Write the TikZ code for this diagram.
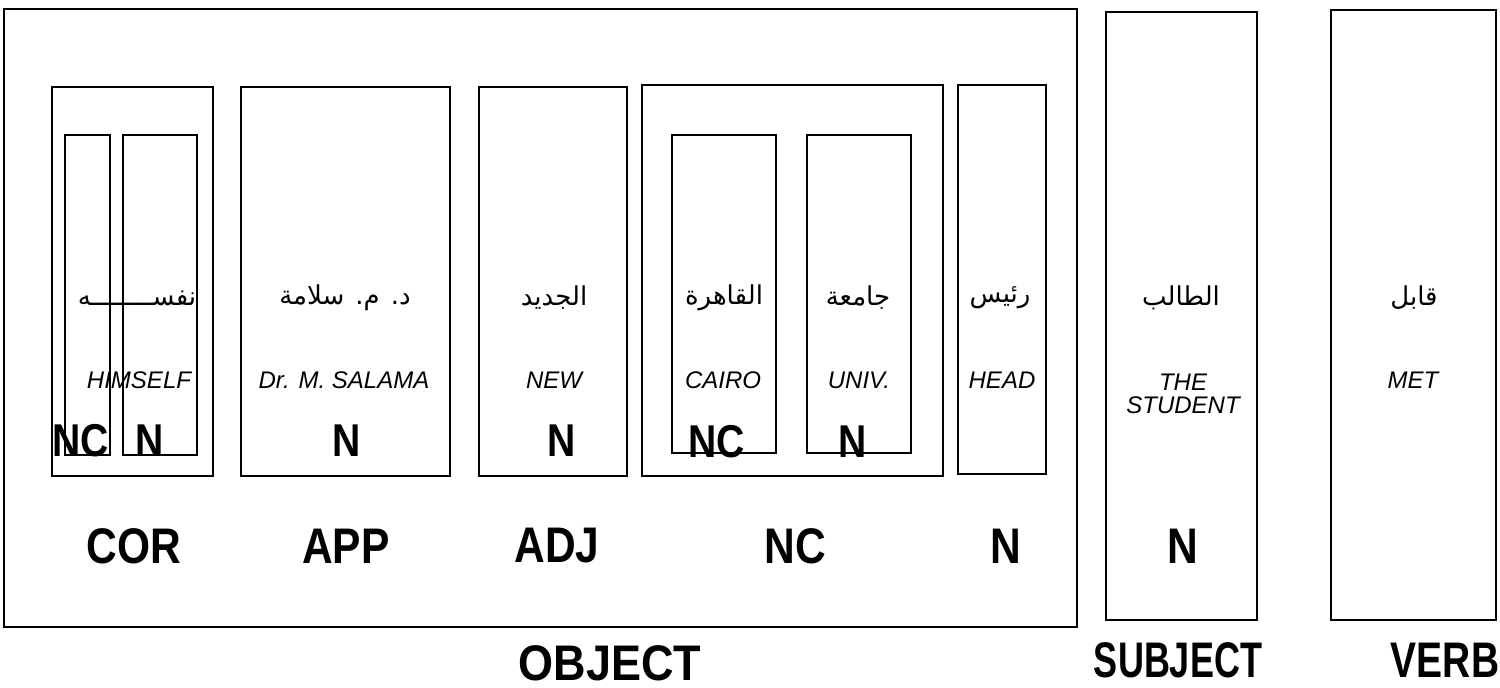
\documentclass[tikz,border=0pt]{standalone}
\usepackage{fontspec}
\usepackage{graphicx}
\setmainfont{Liberation Sans}
\newfontfamily\arabicfont[Script=Arabic]{DejaVu Sans}
\TeXXeTstate=1
\usetikzlibrary{fit}
\newcommand\condensed[2][0.85]{\scalebox{#1}[1]{#2}}
\begin{document}
\begin{tikzpicture}[x=0.5pt,y=-0.5pt, line width=0.6pt,
  box/.style={draw, rectangle, inner sep=0pt},
  ar/.style={font=\arabicfont\fontsize{13}{15}\selectfont, inner sep=0pt},
  en/.style={font=\itshape\fontsize{12}{11.5}\selectfont, inner sep=0pt, align=center},
  bl/.style={font=\bfseries\fontsize{23}{26}\selectfont, inner sep=0pt},
  big/.style={font=\bfseries\fontsize{25}{30}\selectfont, inner sep=0pt}]
\useasboundingbox (0,0) rectangle (1500,688);
% boxes
\node[box, fit={(4,9)(1077,627)}] (object) {};
\node[box, fit={(1106,12)(1257,620)}] (subject) {};
\node[box, fit={(1331,10)(1496,620)}] (verb) {};
\node[box, fit={(52,87)(213,476)}] (cor) {};
\node[box, fit={(65,135)(110,455)}] (cornc) {};
\node[box, fit={(123,135)(197,455)}] (corn) {};
\node[box, fit={(241,87)(450,476)}] (app) {};
\node[box, fit={(479,87)(627,476)}] (adj) {};
\node[box, fit={(642,85)(943,476)}] (nc) {};
\node[box, fit={(672,135)(776,453)}] (cairo) {};
\node[box, fit={(807,135)(911,453)}] (univ) {};
\node[box, fit={(958,85)(1046,474)}] (head) {};
% Arabic words
\node[ar] (a1) at (137,298) {\beginR نفســــــــه\endR};
\node[ar] (a2) at (345,298) {\beginR د. م. سلامة\endR};
\node[ar] (a3) at (554,298) {\beginR الجديد\endR};
\node[ar] (a4) at (724,298) {\beginR القاهرة\endR};
\node[ar] (a5) at (858,298) {\beginR جامعة\endR};
\node[ar] (a6) at (1000,298) {\beginR رئيس\endR};
\node[ar] (a7) at (1181,298) {\beginR الطالب\endR};
\node[ar] (a8) at (1414,298) {\beginR قابل\endR};
% English glosses
\node[en] (e1) at (139,380) {HIMSELF};
\node[en] (e2) at (344,380) {Dr. M. SALAMA};
\node[en] (e3) at (554,380) {NEW};
\node[en] (e4) at (723,380) {CAIRO};
\node[en] (e5) at (859,380) {UNIV.};
\node[en] (e6) at (1002,380) {HEAD};
\node[en] (e7) at (1183,394) {THE\\STUDENT};
\node[en] (e8) at (1413,380) {MET};
% in-box categories
\node[bl] (c1) at (81,441) {\condensed{NC}};
\node[bl] (c2) at (150,441) {\condensed{N}};
\node[bl] (c3) at (347,441) {\condensed{N}};
\node[bl] (c4) at (562,441) {\condensed{N}};
\node[bl] (c5) at (717,442) {\condensed{NC}};
\node[bl] (c6) at (853,442) {\condensed{N}};
% function labels
\node[big] (f1) at (134,546) {\condensed{COR}};
\node[big] (f2) at (346,546) {\condensed{APP}};
\node[big] (f3) at (557,546) {\condensed{ADJ}};
\node[big] (f4) at (795,546) {\condensed{NC}};
\node[big] (f5) at (1006,546) {\condensed{N}};
\node[big] (f6) at (1183,546) {\condensed{N}};
\node[big] (g1) at (610,663) {\condensed[0.9]{OBJECT}};
\node[big] (g2) at (1178,660) {\condensed[0.72]{SUBJECT}};
\node[big] (g3) at (1445,660) {\condensed[0.78]{VERB}};
\end{tikzpicture}
\end{document}
